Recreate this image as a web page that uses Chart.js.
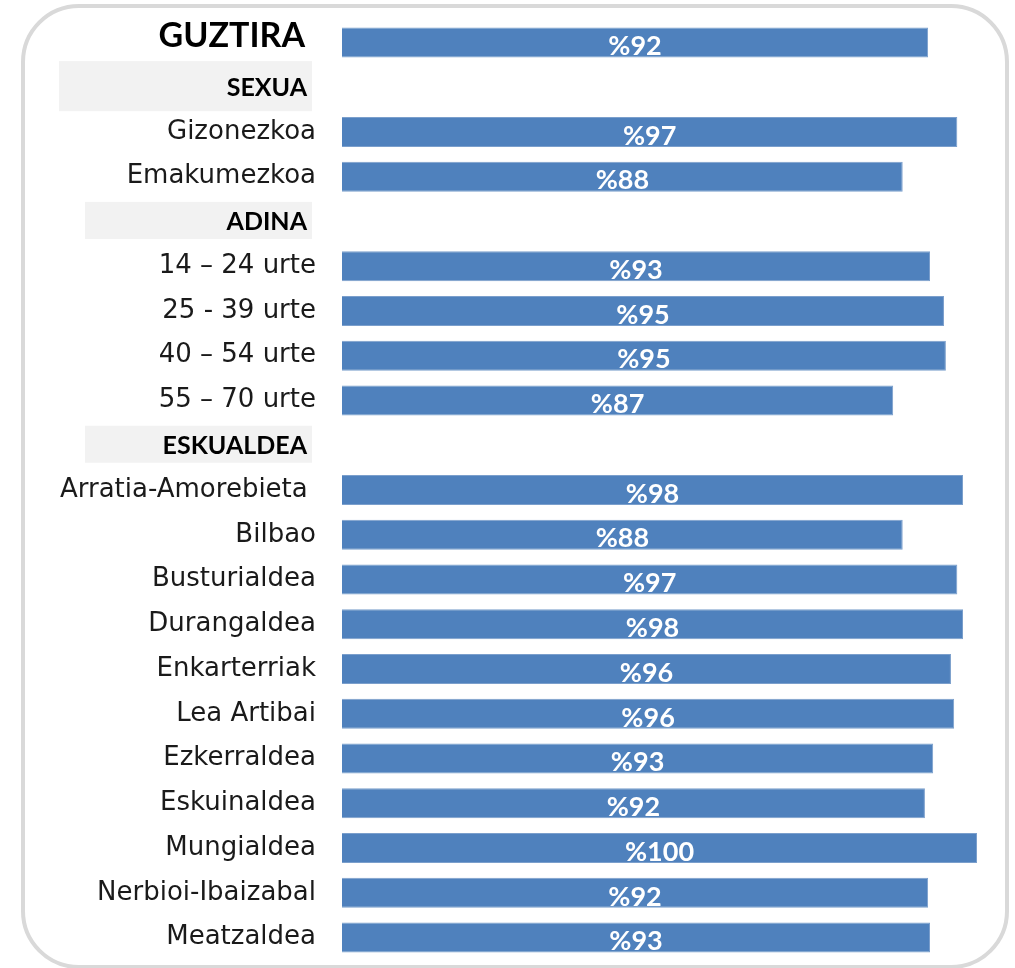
<!DOCTYPE html>
<html>
<head>
<meta charset="utf-8">
<script src="https://cdn.jsdelivr.net/npm/chart.js@4"></script>
<style>
  html, body { margin: 0; padding: 0; background: #fff; }
  #wrap { position: relative; width: 1015px; height: 968px; }
  #frame { position: absolute; left: 21px; top: 4px; width: 980px; height: 957px;
           border: 4px solid #d9d9d9; border-radius: 58px; }
  #c { position: absolute; left: 0; top: 0; }
</style>
</head>
<body>
<div id="wrap">
  <div id="frame"></div>
  <canvas id="c" width="1015" height="968"></canvas>
</div>
<script>
var rows = [
  "GUZTIRA", "SEXUA", "Gizonezkoa", "Emakumezkoa", "ADINA",
  "14 – 24 urte", "25 - 39 urte", "40 – 54 urte", "55 – 70 urte", "ESKUALDEA",
  "Arratia-Amorebieta ", "Bilbao", "Busturialdea", "Durangaldea", "Enkarterriak",
  "Lea Artibai", "Ezkerraldea", "Eskuinaldea", "Mungialdea", "Nerbioi-Ibaizabal", "Meatzaldea"
];
// header rows have no bar
var headers = ["SEXUA", "ADINA", "ESKUALDEA"];
var shares = [
  92.3, null, 96.9, 88.3, null,
  92.6, 94.8, 95.1, 86.8, null,
  97.8, 88.3, 96.9, 97.8, 95.9,
  96.4, 93.1, 91.8, 100, 92.3, 92.6
];

var headerBoxes = {
  1: { left: 59, h: 50 },
  4: { left: 85, h: 37 },
  9: { left: 85, h: 37 }
};

var sidePlugin = {
  id: 'side',
  beforeDatasetsDraw: function(chart) {
    var c = chart.ctx;
    var y = chart.scales.y;
    c.save();
    rows.forEach(function(r, i) {
      var py = y.getPixelForTick(i);
      if (headers.indexOf(r) >= 0) {
        var b = headerBoxes[i];
        c.fillStyle = '#f2f2f2';
        c.fillRect(b.left, py - b.h / 2 - 1, 312 - b.left, b.h);
        c.fillStyle = '#000';
        c.font = 'bold 25px Lato';
        c.textAlign = 'right';
        c.textBaseline = 'middle';
        c.fillText(r, 307, py + 1);
      } else if (i === 0) {
        c.fillStyle = '#000';
        c.font = 'bold 34px Lato';
        c.textAlign = 'right';
        c.textBaseline = 'middle';
        c.fillText(r, 305, py - 6);
      }
    });
    c.restore();
  },
  afterDatasetsDraw: function(chart) {
    var c = chart.ctx;
    var meta = chart.getDatasetMeta(0);
    c.save();
    c.fillStyle = '#fff';
    c.font = 'bold 27px Lato';
    c.textAlign = 'center';
    c.textBaseline = 'middle';
    meta.data.forEach(function(bar, i) {
      var v = shares[i];
      if (v === null) return;
      c.fillText('%' + Math.round(v), (bar.x + bar.base) / 2, bar.y + 4);
    });
    c.restore();
  }
};

new Chart(document.getElementById('c').getContext('2d'), {
  type: 'bar',
  data: {
    labels: rows,
    datasets: [{
      data: shares,
      backgroundColor: '#4f81bd',
      borderColor: '#7b9fcc',
      borderWidth: 1,
      barPercentage: 0.67,
      categoryPercentage: 1
    }]
  },
  options: {
    indexAxis: 'y',
    responsive: false,
    animation: false,
    layout: { padding: { left: 0, right: 38, top: 20, bottom: 8 } },
    plugins: { legend: { display: false }, tooltip: { enabled: false } },
    scales: {
      x: { display: false, min: 0, max: 100 },
      y: {
        grid: { display: false, drawTicks: false },
        border: { display: false },
        afterFit: function(s) { s.width = 342; s.paddingTop = 0; s.paddingBottom = 0; },
        ticks: {
          padding: 26,
          color: '#1a1a1a',
          font: { family: 'DejaVu Sans', size: 26 },
          callback: function(v, i) {
            var r = rows[i];
            if (i === 0 || headers.indexOf(r) >= 0) return '';
            return r;
          }
        }
      }
    }
  },
  plugins: [sidePlugin]
});
</script>
</body>
</html>
